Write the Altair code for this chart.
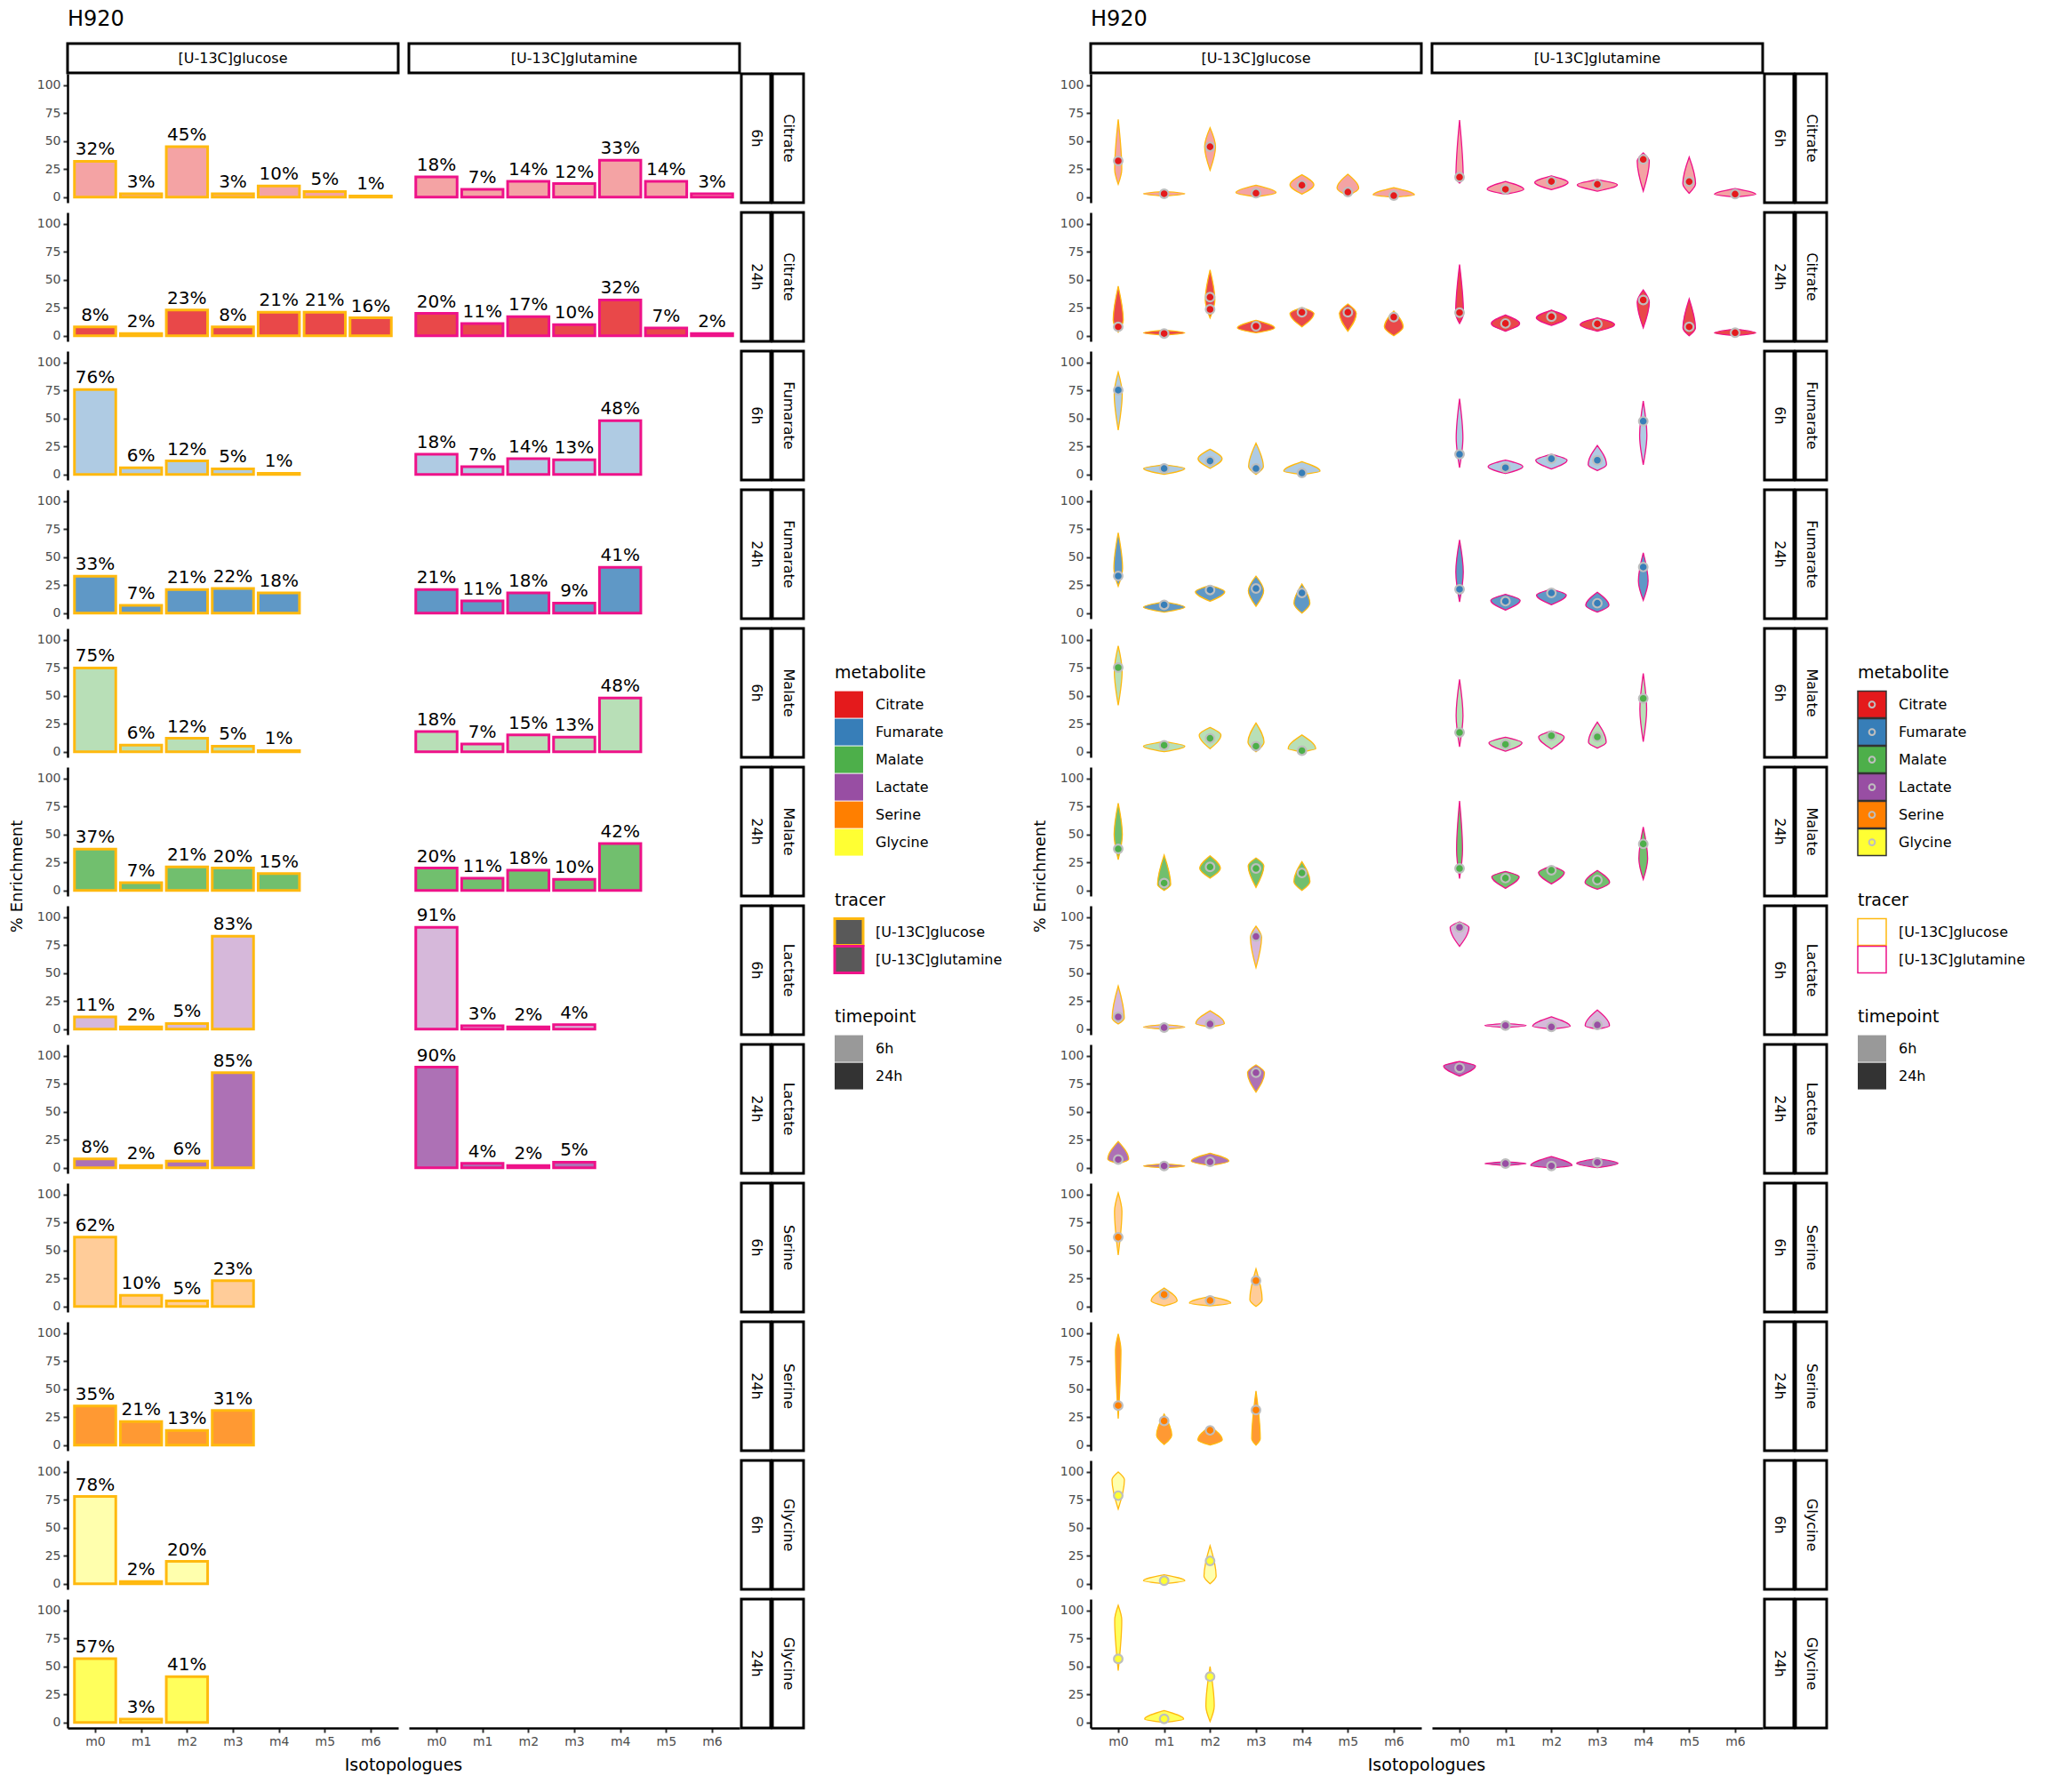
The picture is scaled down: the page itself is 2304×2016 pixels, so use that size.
import altair as alt
import pandas as pd

metabolites = ["Citrate", "Fumarate", "Malate", "Lactate", "Serine", "Glycine"]
met_colors = ["#E41A1C", "#377EB8", "#4DAF4A", "#984EA3", "#FF7F00", "#FFFF33"]
tracers = ["[U-13C]glucose", "[U-13C]glutamine"]
tracer_colors = ["#FFB90F", "#EE1289"]
timepoints = ["6h", "24h"]

# facet rows, top to bottom
panels = [("Citrate", "6h"), ("Citrate", "24h"), ("Fumarate", "6h"), ("Fumarate", "24h"),
          ("Malate", "6h"), ("Malate", "24h"), ("Lactate", "6h"), ("Lactate", "24h"),
          ("Serine", "6h"), ("Serine", "24h"), ("Glycine", "6h"), ("Glycine", "24h")]

# % enrichment per isotopologue m0, m1, ... (one list per panel row)
bar_glc = [[32, 3, 45, 3, 10, 5, 1], [8, 2, 23, 8, 21, 21, 16],
           [76, 6, 12, 5, 1], [33, 7, 21, 22, 18],
           [75, 6, 12, 5, 1], [37, 7, 21, 20, 15],
           [11, 2, 5, 83], [8, 2, 6, 85],
           [62, 10, 5, 23], [35, 21, 13, 31],
           [78, 2, 20], [57, 3, 41]]
bar_gln = [[18, 7, 14, 12, 33, 14, 3], [20, 11, 17, 10, 32, 7, 2],
           [18, 7, 14, 13, 48], [21, 11, 18, 9, 41],
           [18, 7, 15, 13, 48], [20, 11, 18, 10, 42],
           [91, 3, 2, 4], [90, 4, 2, 5],
           [], [], [], []]

# violins: lower end, widest level, upper end and the marked point
vlo_glc = [[11.4, 1.0, 24, 0.3, 2.7, 1.3, 0.0], [3.2, 0.5, 15.9, 2.7, 8, 4, 0],
           [39.7, 0, 5.3, 0, 0], [24, 0.8, 10.6, 6, 0],
           [41.6, 0, 2.7, 0, 0], [27.6, 0, 11, 2.7, 0],
           [4.5, 0, 1.9, 55], [3.7, 0, 2, 67.7],
           [46, 0.5, 0.5, 0], [23.7, 0.5, 0, 0],
           [66.8, 0, 0], [46.4, 0, 0.8]]
vmid_glc = [[25, 3, 45, 4, 11, 8, 2], [14, 2.5, 32, 7, 20, 20, 8],
            [72, 5.3, 14, 7, 3], [40, 5.3, 19, 20, 8.8],
            [72, 5, 15, 8.5, 2.7], [50, 5.3, 19.6, 22, 8],
            [10, 1.8, 5, 82], [7.5, 1.6, 6, 85],
            [85, 5, 3, 6], [85, 9, 4.5, 5.8],
            [93, 2.7, 7], [91.5, 3, 14.6]]
vhi_glc = [[69.5, 5, 62, 10.6, 20, 20.4, 8.5], [44.3, 5, 58.9, 13.8, 25.2, 28.4, 22],
           [91.5, 8.7, 22.5, 28, 11.4], [71.8, 10, 24.7, 33, 26],
           [94.7, 9, 21.7, 25.7, 15], [78, 31.6, 31, 29, 25.7],
           [38.5, 4, 16.4, 92], [23.5, 3.5, 13, 92],
           [101.6, 16.4, 9, 33.6], [99.5, 27.7, 16.9, 48.5],
           [100, 8, 34], [104.8, 10.6, 50]]
vpt_glc = [[32.4, 3, 45, 3.5, 10.6, 4.5, 1.3], [8, 2, 23.6, 8.5, 21, 21, 16.7],
           [75.4, 5.3, 12, 5.3, 1.3], [33.2, 7.4, 20.7, 22, 18],
           [75.3, 5.8, 12, 5, 1], [37.1, 6.6, 21, 19.6, 15.6],
           [10.9, 1.3, 4.5, 82.8], [7.4, 1.6, 5.3, 85],
           [61.9, 10.6, 5.3, 23], [35.4, 21.6, 13.2, 31.4],
           [78.8, 2.7, 20.4], [56.8, 3.2, 41]]
vlo_gln = [[12.5, 2.7, 6.6, 5.3, 5.3, 3.4, 0], [11, 4, 9.3, 4, 7, 0, 0],
           [6, 0.8, 4.8, 3.4, 8.7], [10, 2.7, 7.4, 0.8, 11.4],
           [4.5, 0.5, 2.4, 3.2, 9], [10.6, 1.9, 5.8, 1, 9.8],
           [74, 1.5, 0, 0], [82, 2, 0, 0],
           [], [], [], []]
vmid_gln = [[17, 7, 13, 11, 32, 12, 2.5], [20, 11, 16, 10, 30, 7, 2.5],
            [32.5, 7, 12.7, 8.7, 35], [36.7, 11.4, 16, 7, 28.7],
            [32.4, 8, 13.3, 8.5, 38], [36.3, 12.2, 16, 7, 28.4],
            [91, 3.2, 2.5, 3], [91, 3.7, 2, 4],
            [], [], [], []]
vhi_gln = [[69, 14, 19, 15.6, 39.5, 35.8, 7.7], [63.7, 18.6, 23, 16, 41, 33, 6],
           [67.7, 12.7, 18, 26, 65.6], [65.4, 16.8, 21.3, 18.6, 54],
           [64.7, 13, 18.6, 26.5, 70], [80, 17, 21.8, 17.8, 56.8],
           [96, 5, 11, 17], [95, 5.5, 10, 8.2],
           [], [], [], []]
vpt_gln = [[17.8, 7, 14, 11.4, 33.7, 13.8, 2.7], [20.7, 11, 17, 10.6, 32, 8, 2.7],
           [18, 6, 14, 12.7, 47.6], [21.3, 10.6, 18, 8.8, 41.2],
           [17.2, 6.6, 14.3, 13.3, 47.7], [19.6, 11, 18, 9.3, 41.6],
           [91, 3.2, 1.9, 3.7], [89.4, 3.7, 1.6, 4.8],
           [], [], [], []]
# second marked point: (panel row, tracer, isotopologue, value)
extra_pts = [(1, "[U-13C]glucose", 2, 34.5)]

W, H = 372, 145

rows = []
vid = 0
for p, (met, tp) in enumerate(panels):
    for tr, bars, lo, mid, hi, pt in [
        (tracers[0], bar_glc[p], vlo_glc[p], vmid_glc[p], vhi_glc[p], vpt_glc[p]),
        (tracers[1], bar_gln[p], vlo_gln[p], vmid_gln[p], vhi_gln[p], vpt_gln[p]),
    ]:
        key = dict(panel=p, tracer=tr, metabolite=met, time=tp)
        for i, v in enumerate(bars):
            rows.append(dict(key, kind="bar", iso=i, value=v, label=f"{v}%"))
        for i in range(len(lo)):
            for yv, f in [(lo[i], 0), (mid[i], 1), (hi[i], 0)]:
                rows.append(dict(key, kind="vio", iso=i, vid=vid, vy=yv, f=f,
                                 lo=lo[i], hi=hi[i]))
            vid += 1
            rows.append(dict(key, kind="pt", iso=i, value=pt[i]))
    rows.append(dict(panel=p, tracer=tracers[1], metabolite=met, time=tp, kind="row"))
for p, tr, i, v in extra_pts:
    met, tp = panels[p]
    rows.append(dict(panel=p, tracer=tr, metabolite=met, time=tp, kind="pt", iso=i, value=v))
for tr in tracers:
    rows.append(dict(panel=0, tracer=tr, kind="top"))
rows.append(dict(panel=0, tracer=tracers[0], kind="ttl", label="H920"))
rows.append(dict(panel=5, tracer=tracers[0], kind="ylab", label="% Enrichment"))
rows.append(dict(panel=11, tracer=tracers[0], kind="xlab", label="Isotopologues"))
# legend, drawn beside the glutamine panel of the Malate 6h row
for grp, title in [("met", "metabolite"), ("trc", "tracer"), ("tim", "timepoint")]:
    rows.append(dict(panel=4, tracer=tracers[1], kind="legt", grp=grp, label=title))
for i, m in enumerate(metabolites):
    rows.append(dict(panel=4, tracer=tracers[1], kind="leg", grp="met", li=i, metabolite=m, label=m))
for i, t in enumerate(tracers):
    rows.append(dict(panel=4, tracer=tracers[1], kind="leg", grp="trc", li=i, leg_tracer=t, label=t))
for i, t in enumerate(timepoints):
    rows.append(dict(panel=4, tracer=tracers[1], kind="leg", grp="tim", li=i, time=t, label=t))
df = pd.DataFrame(rows)

FONT = "DejaVu Sans"
xs = alt.Scale(domain=[-0.6, 6.6], nice=False, zero=False)
ys = alt.Scale(domain=[-5, 110.3], nice=False, zero=False)
xaxis = alt.Axis(values=list(range(7)), labelExpr="'m' + datum.value", title=None, grid=False)
yaxis = alt.Axis(values=[0, 25, 50, 75, 100], title=None, grid=False)
fill_enc = alt.Fill("metabolite:N", scale=alt.Scale(domain=metabolites, range=met_colors), legend=None)
op_enc = alt.FillOpacity("time:N", scale=alt.Scale(domain=timepoints, range=[0.4, 0.8]), legend=None)
stroke_enc = alt.Stroke("tracer:N", scale=alt.Scale(domain=tracers, range=tracer_colors), legend=None)
legstroke_enc = alt.Stroke("leg_tracer:N", scale=alt.Scale(domain=tracers, range=tracer_colors), legend=None)

base = alt.Chart()


def frame_layers(violin):
    top = base.transform_filter("datum.kind == 'top'")
    rs = base.transform_filter("datum.kind == 'row'")
    box = dict(fill="white", stroke="black", strokeWidth=3)
    layers = [
        top.mark_rect(**box).encode(x=alt.value(0), x2=alt.value(W), y=alt.value(-34), y2=alt.value(-1)),
        top.mark_text(fontSize=16).encode(x=alt.value(W / 2), y=alt.value(-17), text="tracer:N"),
        base.transform_filter("datum.kind == 'ttl'").mark_text(align="left", fontSize=24).encode(
            x=alt.value(0), y=alt.value(-61), text="label:N"),
        base.transform_filter("datum.kind == 'ylab'").mark_text(angle=270, fontSize=18).encode(
            x=alt.value(-56), y=alt.value(123), text="label:N"),
        base.transform_filter("datum.kind == 'xlab'").mark_text(fontSize=19).encode(
            x=alt.value(W + 6), y=alt.value(187), text="label:N"),
        rs.mark_rect(**box).encode(x=alt.value(W + 2), x2=alt.value(W + 35), y=alt.value(0), y2=alt.value(H)),
        rs.mark_rect(**box).encode(x=alt.value(W + 37), x2=alt.value(W + 72), y=alt.value(0), y2=alt.value(H)),
        rs.mark_text(angle=90, fontSize=16).encode(x=alt.value(W + 18.5), y=alt.value(H / 2), text="time:N"),
        rs.mark_text(angle=90, fontSize=16).encode(x=alt.value(W + 54.5), y=alt.value(H / 2), text="metabolite:N"),
    ]
    leg = base.transform_filter("datum.kind == 'leg'").transform_calculate(
        ly="(datum.grp == 'met' ? 49.6 : datum.grp == 'trc' ? 305.6 : 436.6) + 21 + 31 * datum.li",
        ly2="datum.ly + 30",
        lc="datum.ly + 15",
    )
    ly = alt.Y("ly:Q", scale=None, axis=None)
    lc = alt.Y("lc:Q", scale=None, axis=None)
    sw = dict(x=alt.value(479), x2=alt.value(511), y=ly, y2="ly2:Q")
    met = leg.transform_filter("datum.grp == 'met'")
    trc = leg.transform_filter("datum.grp == 'trc'")
    tim = leg.transform_filter("datum.grp == 'tim'")
    if violin:
        layers += [
            met.mark_rect(stroke="#333333", strokeWidth=1.5).encode(fill=fill_enc, **sw),
            met.mark_point(shape="circle", filled=False, stroke="#BEBEBE", strokeWidth=2,
                           size=45, opacity=1).encode(x=alt.value(495), y=lc),
            trc.mark_rect(fill="white", strokeWidth=1.5).encode(stroke=legstroke_enc, **sw),
        ]
    else:
        layers += [
            met.mark_rect().encode(fill=fill_enc, **sw),
            trc.mark_rect(fill="#595959", strokeWidth=3).encode(stroke=legstroke_enc, **sw),
        ]
    layers += [
        tim.mark_rect(fill="black").encode(fillOpacity=op_enc, **sw),
        leg.mark_text(align="left", fontSize=16).encode(x=alt.value(525), y=lc, text="label:N"),
        base.transform_filter("datum.kind == 'legt'").transform_calculate(
            ty="datum.grp == 'met' ? 49.6 : datum.grp == 'trc' ? 305.6 : 436.6"
        ).mark_text(align="left", fontSize=19).encode(
            x=alt.value(479), y=alt.Y("ty:Q", scale=None, axis=None), text="label:N"),
    ]
    return layers


bar = base.transform_filter("datum.kind == 'bar'")
bar_layers = [
    bar.transform_calculate(xl="datum.iso - 0.45", xr="datum.iso + 0.45").mark_rect(strokeWidth=3).encode(
        x=alt.X("xl:Q", scale=xs, axis=xaxis), x2="xr:Q",
        y=alt.Y("value:Q", scale=ys, axis=yaxis), y2=alt.datum(0),
        fill=fill_enc, fillOpacity=op_enc, stroke=stroke_enc),
    bar.mark_text(baseline="bottom", dy=-3, fontSize=20).encode(
        x=alt.X("iso:Q", scale=xs, axis=xaxis), y=alt.Y("value:Q", scale=ys, axis=yaxis), text="label:N"),
]

vio_layers = [
    base.transform_filter("datum.kind == 'vio'").transform_calculate(
        hw="min(0.45, 4.5 / (datum.hi - datum.lo))",
        vx1="datum.iso - datum.hw * datum.f",
        vx2="datum.iso + datum.hw * datum.f",
    ).mark_area(orient="horizontal", interpolate="monotone", strokeWidth=1.3).encode(
        y=alt.Y("vy:Q", scale=ys, axis=yaxis), x=alt.X("vx1:Q", scale=xs, axis=xaxis), x2="vx2:Q",
        detail="vid:N", fill=fill_enc, fillOpacity=op_enc, stroke=stroke_enc),
    base.transform_filter("datum.kind == 'pt'").mark_circle(
        size=95, stroke="#BEBEBE", strokeWidth=2.2, opacity=1, fillOpacity=1).encode(
        x=alt.X("iso:Q", scale=xs, axis=xaxis), y=alt.Y("value:Q", scale=ys, axis=yaxis), fill=fill_enc),
]


def side(layers):
    return alt.layer(*layers, data=df).properties(width=W, height=H).facet(
        row=alt.Row("panel:O", header=None),
        column=alt.Column("tracer:N", header=None),
        spacing={"row": 11, "column": 12},
        bounds="flush",
    )


left = side(bar_layers + frame_layers(False))
right = side(vio_layers + frame_layers(True))

chart = alt.hconcat(left, right, spacing=34).properties(
    padding={"left": 3, "top": 2, "right": 0, "bottom": 0}
).configure(font=FONT).configure_view(strokeWidth=0).configure_text(
    font=FONT, color="black"
).configure_axis(
    labelFont=FONT, labelFontSize=14, labelColor="#4D4D4D", tickColor="#333333",
    tickWidth=2, tickSize=5, domainColor="black", domainWidth=2.5, labelPadding=3,
)

chart.save("out.html", embed_options={"renderer": "svg", "actions": False})
